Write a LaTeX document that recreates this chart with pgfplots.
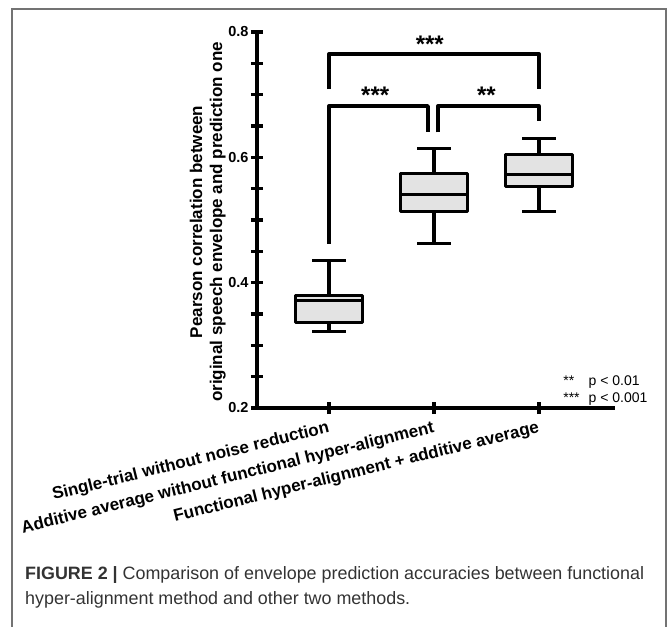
\documentclass[border=0pt]{standalone}
\usepackage{fontspec}
\setmainfont{Liberation Sans}
\usepackage{pgfplots}
\pgfplotsset{compat=1.18}
\begin{document}
\begin{tikzpicture}
\useasboundingbox (0pt,0pt) rectangle (670pt,-627pt);
\draw[line width=1.6pt, black!55] (12pt,-640pt) -- (12pt,-9pt) -- (666pt,-9pt) -- (666pt,-640pt);
\begin{axis}[
  at={(257pt,-408pt)}, anchor=south west,
  width=356pt, height=376pt, scale only axis,
  xmin=0.314, xmax=3.705, ymin=0.2, ymax=0.8,
  axis lines=left,
  axis line style={-, line width=4pt, black, line cap=rect},
  tick style={line width=3.5pt, black},
  major tick length=12pt, minor tick length=12pt,
  ytick={0.2,0.4,0.6,0.8},
  minor ytick={0.25,0.3,0.35,0.45,0.5,0.55,0.65,0.7,0.75},
  yticklabel style={font=\fontsize{14.5}{14.5}\selectfont\bfseries,
    /pgf/number format/fixed, /pgf/number format/fixed zerofill,
    /pgf/number format/precision=1, xshift=1pt},
  /pgf/number format/assume math mode=true,
  xtick={1,2,3},
  xticklabels={Single-trial without noise reduction,
    Additive average without functional hyper-alignment,
    Functional hyper-alignment + additive average},
  xticklabel style={font=\fontsize{17}{17}\selectfont\bfseries,
    rotate=13.8, anchor=north east, yshift=-2pt},
  ylabel={Pearson correlation between\\original speech envelope and prediction one},
  ylabel style={align=center, font=\fontsize{17}{20}\selectfont\bfseries,
    at={(axis description cs:-0.138,0.495)}, anchor=center},
  clip=false,
  unbounded coords=jump,
  bx/.style={black, solid, no markers, line width=3.3pt, line join=round},
]
% box 1: Single-trial
\addplot[bx, fill=black!11] coordinates {(0.68,0.336)(1.32,0.336)(1.32,0.380)(0.68,0.380)} -- cycle;
\addplot[bx] coordinates {(0.68,0.372)(1.32,0.372) (1,nan) (1,0.380)(1,0.435) (1,nan) (0.84,0.435)(1.16,0.435)
  (1,nan) (1,0.336)(1,0.322) (1,nan) (0.84,0.322)(1.16,0.322)};
% box 2: Additive average
\addplot[bx, fill=black!11] coordinates {(1.68,0.514)(2.32,0.514)(2.32,0.574)(1.68,0.574)} -- cycle;
\addplot[bx] coordinates {(1.68,0.541)(2.32,0.541) (2,nan) (2,0.574)(2,0.614) (2,nan) (1.84,0.614)(2.16,0.614)
  (2,nan) (2,0.514)(2,0.462) (2,nan) (1.84,0.462)(2.16,0.462)};
% box 3: Functional hyper-alignment
\addplot[bx, fill=black!11] coordinates {(2.68,0.554)(3.32,0.554)(3.32,0.605)(2.68,0.605)} -- cycle;
\addplot[bx] coordinates {(2.68,0.573)(3.32,0.573) (3,nan) (3,0.605)(3,0.630) (3,nan) (2.84,0.630)(3.16,0.630)
  (3,nan) (3,0.554)(3,0.514) (3,nan) (2.84,0.514)(3.16,0.514)};
% significance brackets
\addplot[bx] coordinates {(1,0.709)(1,0.765)(3,0.765)(3,0.709)};
\addplot[bx] coordinates {(1,0.462)(1,0.682)(1.943,0.682)(1.943,0.640)};
\addplot[bx] coordinates {(2.038,0.640)(2.038,0.682)(3,0.682)(3,0.658)};
\node[font=\fontsize{24}{24}\selectfont\bfseries] at (axis cs:1.96,0.780) {***};
\node[font=\fontsize{24}{24}\selectfont\bfseries] at (axis cs:1.44,0.699) {***};
\node[font=\fontsize{24}{24}\selectfont\bfseries] at (axis cs:2.50,0.699) {**};
\node[anchor=west, font=\fontsize{14}{16.5}\selectfont, inner sep=0pt] at (axis cs:3.23,0.228)
  {\begin{tabular}{@{}l@{\ }l@{}}{**}\hspace{0.75em} & p < 0.01\\ {***} & p < 0.001\end{tabular}};
\end{axis}
\node[anchor=base west, text=black!80, inner sep=0pt, font=\fontsize{17.9}{20}\selectfont] at (25pt,-579pt)
  {\textbf{FIGURE 2 |} Comparison of envelope prediction accuracies between functional};
\node[anchor=base west, text=black!80, inner sep=0pt, font=\fontsize{17.9}{20}\selectfont] at (25pt,-604pt)
  {hyper-alignment method and other two methods.};
\end{tikzpicture}
\end{document}
